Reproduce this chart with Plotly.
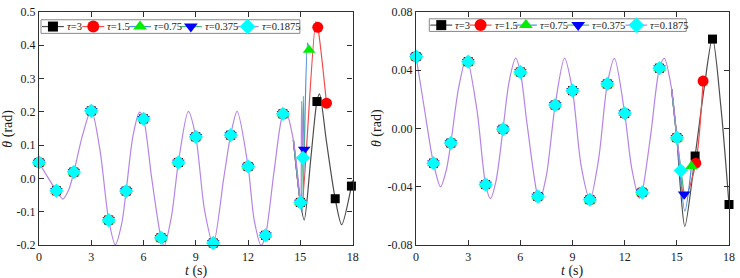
import plotly.graph_objects as go

# ------------------------- DATA -------------------------
series_names = ["3", "1.5", "0.75", "0.375", "0.1875"]

x_tick_vals = [0, 3, 6, 9, 12, 15, 18]
x_tick_text = ["0", "3", "6", "9", "12", "15", "18"]
left_y_vals = [-0.2, -0.1, 0.0, 0.1, 0.2, 0.3, 0.4, 0.5]
left_y_text = ["-0.2", "-0.1", "0.0", "0.1", "0.2", "0.3", "0.4", "0.5"]
right_y_vals = [-0.08, -0.04, 0.0, 0.04, 0.08]
right_y_text = ["-0.08", "-0.04", "0.00", "0.04", "0.08"]

# shared curve (all series coincide up to t = 15) - left panel
left_base_t = [0, 0.5, 1, 1.37, 1.7, 2, 2.5, 3, 3.5, 4, 4.38, 4.75, 5, 5.4, 5.77, 6, 6.47, 7,
               7.18, 7.6, 8, 8.57, 9, 9.5, 10, 10.6, 11, 11.37, 12, 12.35, 12.75, 13, 13.5,
               14, 14.17, 14.6, 15]
left_base_y = [0.048, 0.004, -0.037, -0.062, -0.035, 0.019, 0.13, 0.205, 0.085, -0.125, -0.199,
               -0.135, -0.038, 0.13, 0.199, 0.179, 0.0, -0.178, -0.203, -0.115, 0.048, 0.2015,
               0.125, -0.095, -0.197, 0.0, 0.130, 0.2015, 0.036, -0.125, -0.201, -0.171, 0.025,
               0.194, 0.200, 0.115, -0.072]
# markers shared at t = 0..15
mark_t = list(range(16))
left_mark_y = [0.048, -0.037, 0.019, 0.203, -0.125, -0.038, 0.179, -0.178, 0.048, 0.125,
               -0.194, 0.130, 0.036, -0.171, 0.194, -0.072]

# left tails after t = 15
left_tail_t_3 = [15.22, 15.6, 15.95, 16.1, 16.5, 17.0, 17.37, 17.93, 18.0]
left_tail_y_3 = [-0.125, 0.06, 0.231, 0.254, 0.11, -0.061, -0.139, -0.023, -0.005]
left_tail_t_15 = [15.08, 15.89, 16.0, 16.5]
left_tail_y_15 = [-0.088, 0.471, 0.454, 0.226]
left_tail_t_075 = [15.1, 15.41, 15.5]
left_tail_y_075 = [-0.1, 0.407, 0.386]
left_tail_t_0375 = [15.05, 15.17, 15.22]
left_tail_y_0375 = [-0.09, 0.247, 0.087]
left_tail_t_01875 = [15.03, 15.07, 15.15]
left_tail_y_01875 = [-0.088, 0.232, 0.062]

left_extra_t_3 = [15.95, 17.0, 17.93]
left_extra_y_3 = [0.231, -0.061, -0.023]
left_extra_t_15 = [16.0, 16.5]
left_extra_y_15 = [0.454, 0.226]
left_extra_t_075 = [15.5]
left_extra_y_075 = [0.386]
left_extra_t_0375 = [15.22]
left_extra_y_0375 = [0.087]
left_extra_t_01875 = [15.15]
left_extra_y_01875 = [0.062]

# right panel
right_base_t = [0, 0.5, 1, 1.41, 1.75, 2, 2.45, 2.9, 3.5, 4, 4.28, 4.6, 5, 5.35, 5.73, 6, 6.4, 7,
                7.12, 7.5, 8, 8.54, 9, 9.5, 10, 10.5, 11, 11.41, 12, 12.4, 12.84, 13, 13.5, 14,
                14.28, 14.7, 15]
right_base_y = [0.0494, 0.012, -0.0238, -0.0400, -0.028, -0.0100, 0.028, 0.0487, 0.0129, -0.0385,
                -0.0482, -0.036, -0.0005, 0.032, 0.0483, 0.0388, 0.0016, -0.0467, -0.0487, -0.032,
                0.0161, 0.0483, 0.0260, -0.026, -0.0489, -0.021, 0.0306, 0.0481, 0.0104, -0.027,
                -0.0478, -0.0438, -0.004, 0.0414, 0.0481, 0.027, -0.0063]
right_mark_y = [0.0494, -0.0238, -0.0100, 0.0459, -0.0385, -0.0005, 0.0388, -0.0467, 0.0161,
                0.0260, -0.0489, 0.0306, 0.0104, -0.0438, 0.0414, -0.0063]

right_tail_t_3 = [15.2, 15.46, 16.05, 16.57, 17.05, 17.52, 18.0]
right_tail_y_3 = [-0.04, -0.0673, -0.0189, 0.0277, 0.062, 0.0166, -0.0522]
right_tail_t_15 = [15.45, 16.09, 16.51]
right_tail_y_15 = [-0.048, -0.0238, 0.0326]
right_tail_t_075 = [15.46, 15.84]
right_tail_y_075 = [-0.0567, -0.026]
right_tail_t_0375 = [15.42]
right_tail_y_0375 = [-0.0451]
right_tail_t_01875 = [15.23]
right_tail_y_01875 = [-0.0289]

right_extra_t_3 = [16.05, 17.05, 18.0]
right_extra_y_3 = [-0.0189, 0.0614, -0.0522]
right_extra_t_15 = [16.09, 16.51]
right_extra_y_15 = [-0.0238, 0.0326]
right_extra_t_075 = [15.84]
right_extra_y_075 = [-0.026]
right_extra_t_0375 = [15.42]
right_extra_y_0375 = [-0.0451]
right_extra_t_01875 = [15.23]
right_extra_y_01875 = [-0.0289]

# ------------------------- STYLE -------------------------
FONT = "Liberation Serif, Times New Roman, DejaVu Serif, serif"
TXT = "#1a1a1a"
line_colors = ["#4d4d4d", "#f24b4b", "#4a90e0", "#45b87a", "#b585e6"]
marker_colors = ["#000000", "#ff0000", "#00ee00", "#0000ff", "#00ffff"]
marker_symbols = ["square", "circle", "triangle-up", "triangle-down", "diamond"]
marker_sizes = [9, 11, 11, 11, 11]
AX = "#303030"

left_tails = [(left_tail_t_3, left_tail_y_3), (left_tail_t_15, left_tail_y_15),
              (left_tail_t_075, left_tail_y_075), (left_tail_t_0375, left_tail_y_0375),
              (left_tail_t_01875, left_tail_y_01875)]
left_extras = [(left_extra_t_3, left_extra_y_3), (left_extra_t_15, left_extra_y_15),
               (left_extra_t_075, left_extra_y_075), (left_extra_t_0375, left_extra_y_0375),
               (left_extra_t_01875, left_extra_y_01875)]
right_tails = [(right_tail_t_3, right_tail_y_3), (right_tail_t_15, right_tail_y_15),
               (right_tail_t_075, right_tail_y_075), (right_tail_t_0375, right_tail_y_0375),
               (right_tail_t_01875, right_tail_y_01875)]
right_extras = [(right_extra_t_3, right_extra_y_3), (right_extra_t_15, right_extra_y_15),
                (right_extra_t_075, right_extra_y_075), (right_extra_t_0375, right_extra_y_0375),
                (right_extra_t_01875, right_extra_y_01875)]

fig = go.Figure()

def add_panel(xa, ya, base_t, base_y, mark_y, tails, extras):
    # diverging tails of series 0..3 (start from last two shared points for continuity)
    for i in range(4):
        tt, ty = tails[i]
        fig.add_trace(go.Scatter(
            x=base_t[-2:] + tt, y=base_y[-2:] + ty, xaxis=xa, yaxis=ya, mode="lines",
            line=dict(color=line_colors[i], width=1.2, shape="spline", smoothing=0.8),
            showlegend=False, hoverinfo="skip"))
    # finest step: full curve (shared part is drawn once, on top)
    tt, ty = tails[4]
    fig.add_trace(go.Scatter(
        x=base_t + tt, y=base_y + ty, xaxis=xa, yaxis=ya, mode="lines",
        line=dict(color=line_colors[4], width=1.2, shape="spline", smoothing=0.8),
        showlegend=False, hoverinfo="skip"))
    # markers
    for i in range(5):
        et, ey = extras[i]
        fig.add_trace(go.Scatter(
            x=mark_t + et, y=mark_y + ey, xaxis=xa, yaxis=ya, mode="markers",
            marker=dict(symbol=marker_symbols[i], color=marker_colors[i], size=marker_sizes[i],
                        line=dict(width=0)),
            cliponaxis=False, showlegend=False, hoverinfo="skip"))

add_panel("x", "y", left_base_t, left_base_y, left_mark_y, left_tails, left_extras)
add_panel("x2", "y2", right_base_t, right_base_y, right_mark_y, right_tails, right_extras)

# ---- hand-made legends (pixel-coordinate overlay axis) ----
legend_boxes = [(41, 301, 13, 27), (431, 689, 12, 25)]
legend_centers = [[53, 93.5, 140.5, 191.5, 248.5], [443, 482.5, 528, 580.5, 639]]
shapes = []
annotations = []
for (bx0, bx1, by0, by1), centers in zip(legend_boxes, legend_centers):
    shapes.append(dict(type="rect", xref="x3", yref="y3", x0=bx0, x1=bx1, y0=by0, y1=by1,
                       line=dict(color="#888888", width=1), fillcolor="white", layer="below"))
    yc = (by0 + by1) / 2
    for i, c in enumerate(centers):
        fig.add_trace(go.Scatter(x=[c - 11, c + 11], y=[yc, yc], xaxis="x3", yaxis="y3",
                                 mode="lines", line=dict(color=line_colors[i], width=1.2),
                                 showlegend=False, hoverinfo="skip", cliponaxis=False))
        fig.add_trace(go.Scatter(x=[c], y=[yc], xaxis="x3", yaxis="y3", mode="markers",
                                 marker=dict(symbol=marker_symbols[i], color=marker_colors[i],
                                             size=marker_sizes[i] + 1, line=dict(width=0)),
                                 showlegend=False, hoverinfo="skip", cliponaxis=False))
        annotations.append(dict(xref="x3", yref="y3", x=c + 12, y=yc, xanchor="left",
                                yanchor="middle", showarrow=False,
                                text="<i>τ</i>=" + series_names[i],
                                font=dict(family=FONT, size=10.5, color=TXT)))

# axis titles
title_font = dict(family=FONT, size=14, color=TXT)
annotations += [
    dict(xref="paper", yref="paper", x=(196.7 - 39) / 693, y=-(271.7 - 245) / 240,
         xanchor="center", yanchor="middle", text="<i>t</i> (s)", showarrow=False, font=title_font),
    dict(xref="paper", yref="paper", x=(574.7 - 39) / 693, y=-(271.7 - 245) / 240,
         xanchor="center", yanchor="middle", text="<i>t</i> (s)", showarrow=False, font=title_font),
    dict(xref="paper", yref="paper", x=(7 - 39) / 693, y=0.5, xanchor="center", yanchor="middle",
         text="<i>θ</i> (rad)", textangle=-90, showarrow=False, font=title_font),
    dict(xref="paper", yref="paper", x=(378 - 39) / 693, y=0.5, xanchor="center", yanchor="middle",
         text="<i>θ</i> (rad)", textangle=-90, showarrow=False, font=title_font),
]

common_axis = dict(showline=True, mirror="ticks", linecolor=AX, linewidth=1.3, ticks="inside",
                   ticklen=5, tickwidth=1.2, tickcolor=AX, showgrid=False, zeroline=False,
                   ticklabeloverflow="allow",
                   tickfont=dict(family=FONT, size=12, color=TXT), fixedrange=True)

fig.update_layout(
    width=740, height=278, margin=dict(l=39, r=8, t=5, b=33),
    paper_bgcolor="white", plot_bgcolor="rgba(0,0,0,0)",
    showlegend=False,
    xaxis=dict(domain=[0, 315 / 693], range=[0, 18], tickmode="array", tickvals=x_tick_vals,
               ticktext=x_tick_text, anchor="y", **common_axis),
    yaxis=dict(domain=[0, 1], range=[-0.2, 0.5], tickmode="array", tickvals=left_y_vals,
               ticktext=left_y_text, anchor="x", **common_axis),
    xaxis2=dict(domain=[378.7 / 693, 1], range=[0, 18], tickmode="array", tickvals=x_tick_vals,
                ticktext=x_tick_text, anchor="y2", **common_axis),
    yaxis2=dict(domain=[0, 1], range=[-0.08, 0.08], tickmode="array", tickvals=right_y_vals,
                ticktext=right_y_text, anchor="x2", **common_axis),
    xaxis3=dict(domain=[0, 1], range=[39, 732], visible=False, anchor="y3", fixedrange=True),
    yaxis3=dict(domain=[0, 1], range=[245, 5], visible=False, anchor="x3", fixedrange=True),
    shapes=shapes, annotations=annotations,
)

fig.write_html("out.html")
